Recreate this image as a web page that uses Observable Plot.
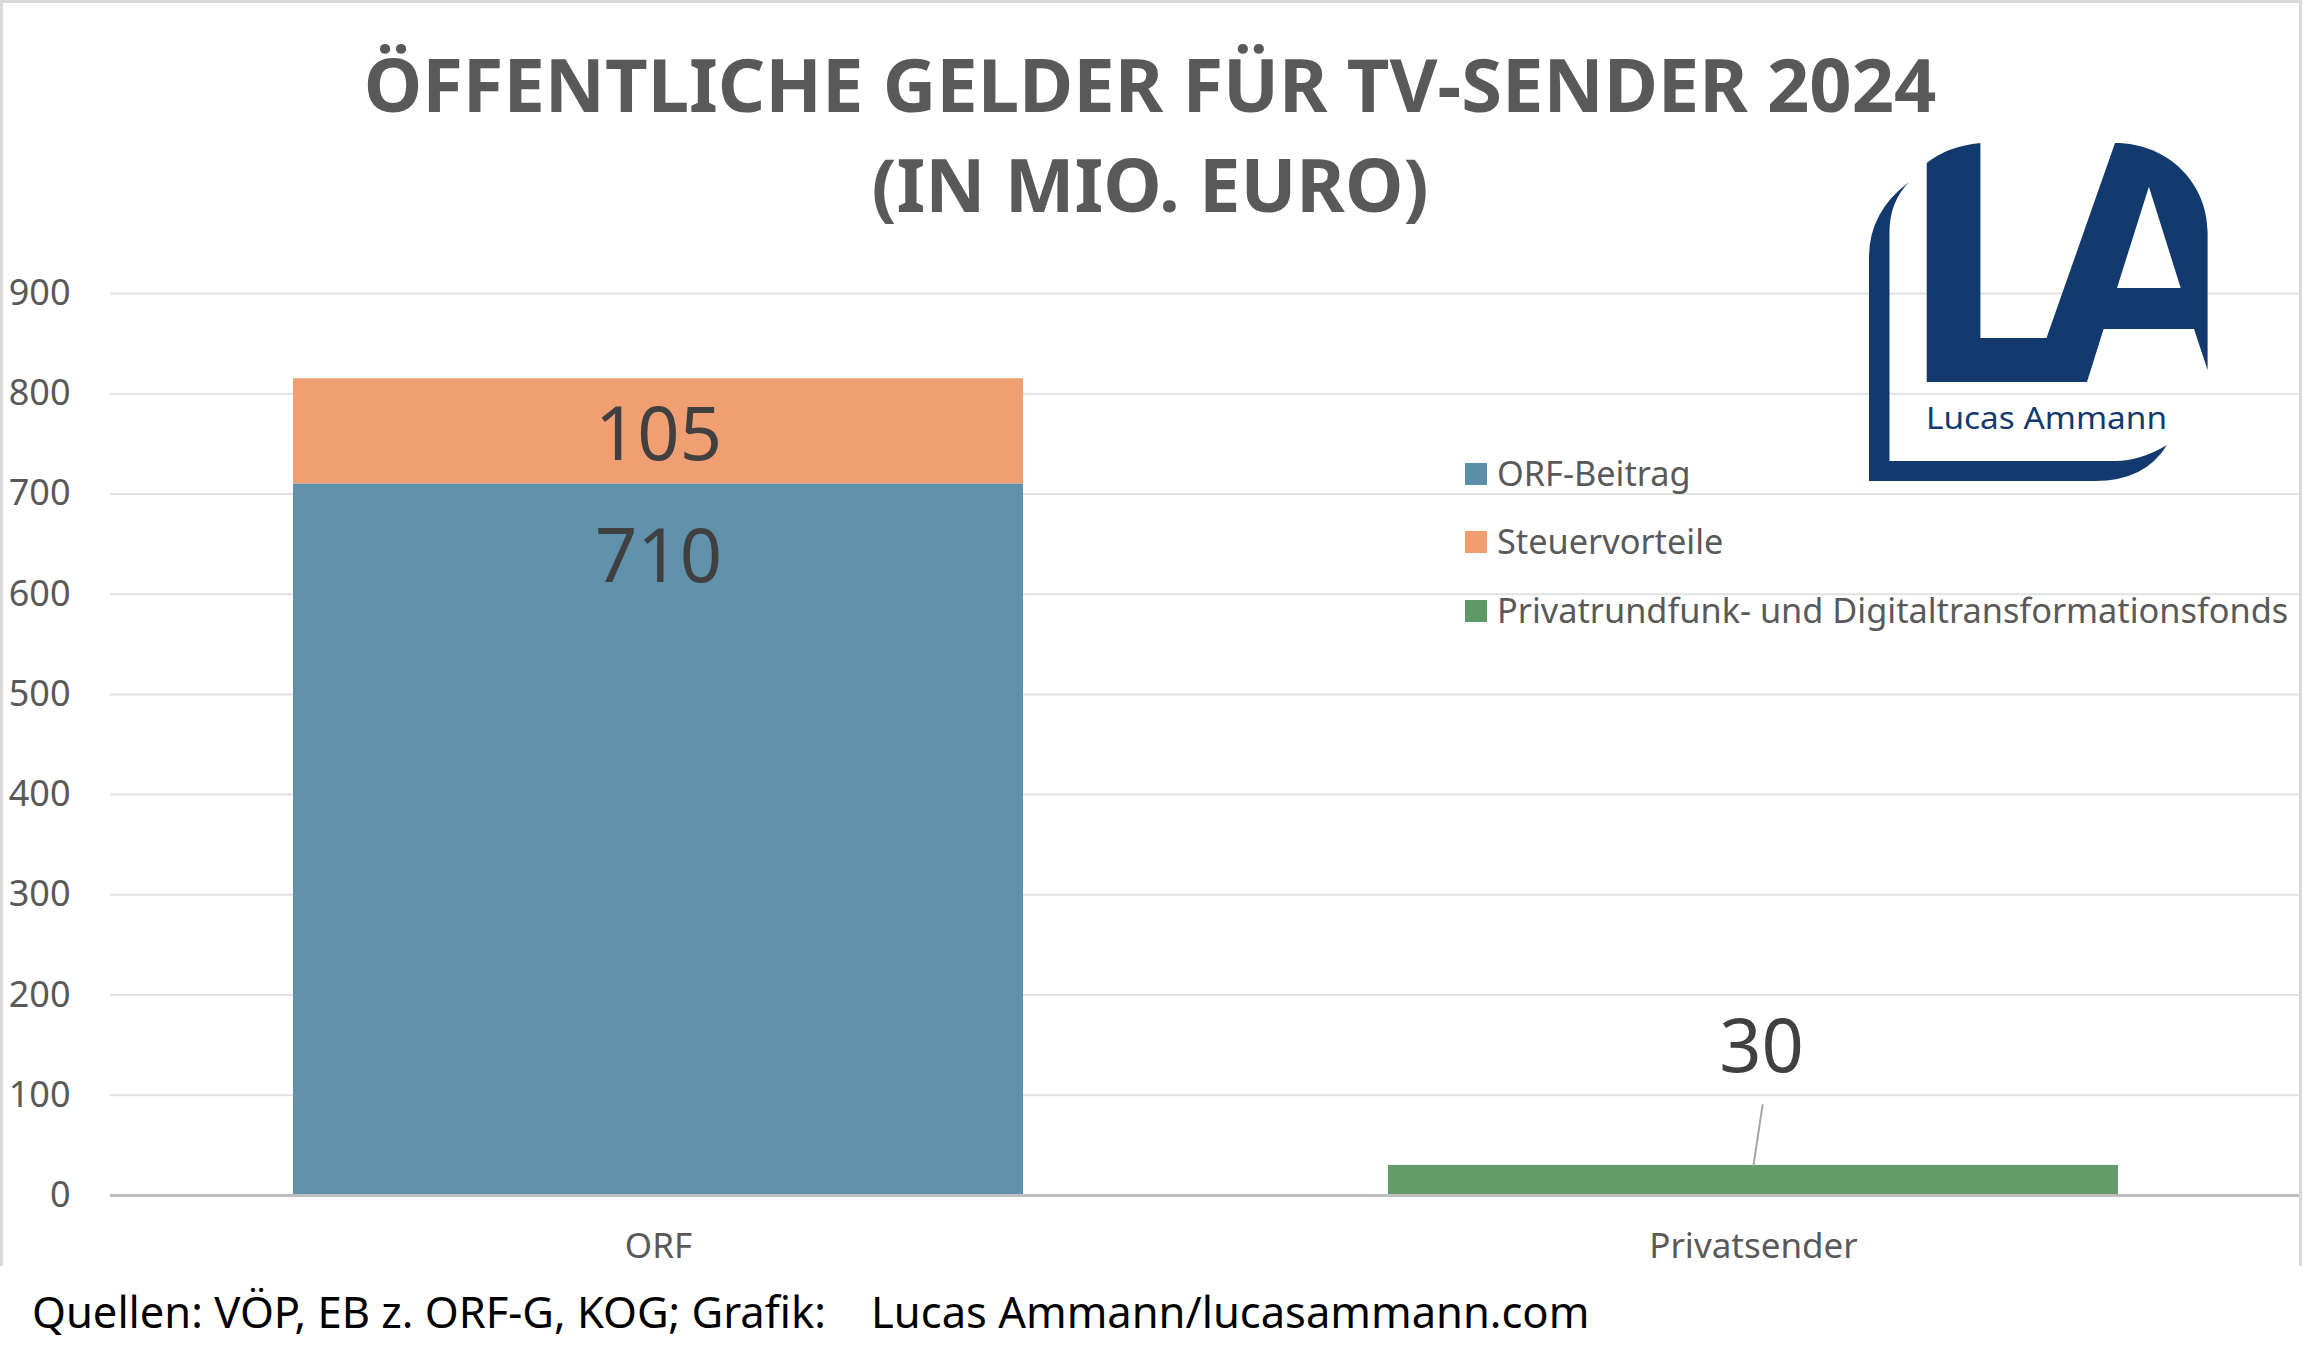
<!DOCTYPE html>
<html>
<head>
<meta charset="utf-8">
<script src="https://cdn.jsdelivr.net/npm/d3@7"></script>
<script src="https://cdn.jsdelivr.net/npm/@observablehq/plot@0.6"></script>
<style>
  html, body { margin: 0; padding: 0; background: #fff; }
  #wrap { position: relative; width: 2304px; height: 1362px; overflow: hidden; font-family: "Noto Sans", sans-serif; background: #fff; }
  #chart { position: absolute; left: 0; top: 0; }
  #frame { position: absolute; left: 0; top: 0; width: 2302px; height: 1266px; border: 3px solid #d9d9d9; border-bottom: none; box-sizing: border-box; pointer-events: none; }
  .title { position: absolute; left: 0; width: 2300px; text-align: center; font-weight: 700; font-size: 74px; line-height: 100px; color: #595959; top: 34px; white-space: nowrap; }
  .legend { position: absolute; left: 1465px; top: 0; }
  .lg-row { position: absolute; left: 0; white-space: nowrap; font-size: 34.3px; line-height: 35px; color: #595959; }
  .lg-sw { position: absolute; left: 0; width: 22px; height: 22px; }
  .lg-tx { position: absolute; left: 32px; }
  .footer { position: absolute; left: 32px; top: 1290px; font-size: 43.5px; line-height: 43px; color: #000; white-space: pre; }
  #logo { position: absolute; left: 0; top: 0; }
</style>
</head>
<body>
<div id="wrap">
  <div id="chart"></div>
  <div id="frame"></div>
  <svg id="logo" width="2304" height="1362" viewBox="0 0 2304 1362">
    <g fill="#133a6e">
      <path d="M1909,182 Q1869,212 1869,257 L1869,481 L2095,481 Q2145,481 2167,445 Q2140,461 2115,461 L1889.5,461 L1889.5,232 Q1889.5,202 1909,182 Z"/>
      <path fill-rule="evenodd" d="M1926.7,163 Q1948,146 1980.4,143 L1980.4,338 L2046.5,338 L2115,143 C2170,143 2207.6,185 2207.6,232 L2207.6,370 L2194,329 L2103.6,329 L2087,382 L1926.7,382 Z M2117,288 L2148.9,186.7 L2180.7,288 Z"/>
      <text x="1926" y="429" font-family="Noto Sans, sans-serif" font-size="31" textLength="241" lengthAdjust="spacingAndGlyphs">Lucas Ammann</text>
    </g>
  </svg>
  <div class="title" id="title"></div>
  <div class="legend" id="legend"></div>
  <div class="footer" id="footer"></div>
</div>
<script>
// ---- data ----
const titleLines = ["ÖFFENTLICHE GELDER FÜR TV-SENDER 2024", "(IN MIO. EURO)"];
const footerText = "Quellen: VÖP, EB z. ORF-G, KOG; Grafik:    Lucas Ammann/lucasammann.com";
const categories = ["ORF", "Privatsender"];
const seriesNames = ["ORF-Beitrag", "Steuervorteile", "Privatrundfunk- und Digitaltransformationsfonds"];
const orfBeitrag = [710, 0];
const steuervorteile = [105, 0];
const fonds = [0, 30];
const yTicks = [0, 100, 200, 300, 400, 500, 600, 700, 800, 900];
const seriesColors = ["#5b8fa8", "#f09c6e", "#5e9865"];

// ---- build table ----
const seriesValues = [orfBeitrag, steuervorteile, fonds];
const rows = [];
seriesNames.forEach((s, k) => categories.forEach((c, i) => {
  rows.push({category: c, series: s, value: seriesValues[k][i]});
}));
// label rows: value and top of its stacked segment
const labelRows = [];
categories.forEach((c, i) => {
  let cum = 0;
  seriesNames.forEach((s, k) => {
    const v = seriesValues[k][i];
    cum += v;
    if (v > 0) labelRows.push({category: c, series: s, value: v, top: cum});
  });
});

const labelStyle = {fill: "#404040", fontSize: 74, fontFamily: "Noto Sans, sans-serif"};

const plot = Plot.plot({
  width: 2304,
  height: 1300,
  marginLeft: 110,
  marginRight: 4,
  marginTop: 293,
  marginBottom: 105,
  style: {background: "transparent", color: "#595959", fontFamily: "Noto Sans, sans-serif"},
  x: {type: "band", domain: categories, paddingInner: 1/3, paddingOuter: 1/6, label: null},
  y: {domain: [0, 900], ticks: yTicks, label: null},
  color: {domain: seriesNames, range: seriesColors},
  marks: [
    Plot.ruleY(yTicks.filter(t => t > 0), {stroke: "#e2e2e2", strokeWidth: 2}),
    Plot.barY(rows, Plot.stackY({x: "category", y: "value", fill: "series", order: seriesNames, fillOpacity: 0.97})),
    Plot.ruleY([0], {stroke: "#bfbfbf", strokeWidth: 3}),
    Plot.axisY({ticks: yTicks, tickSize: 0, tickPadding: 40, fontSize: 36, label: null}),
    Plot.axisX({tickSize: 0, tickPadding: 38, fontSize: 35, label: null}),
    Plot.text(labelRows.filter(d => d.series === seriesNames[0]), {x: "category", y: "top", text: d => String(d.value), dy: 74, ...labelStyle}),
    Plot.text(labelRows.filter(d => d.series === seriesNames[1]), {x: "category", y: "top", text: d => String(d.value), dy: 58, ...labelStyle}),
    Plot.text(labelRows.filter(d => d.series === seriesNames[2]), {x: "category", y: "top", text: d => String(d.value), dy: -117, dx: 8, ...labelStyle}),
    Plot.vector(labelRows.filter(d => d.series === seriesNames[2]), {
      x: "category", y: "top", length: 61, rotate: 8.5, anchor: "start",
      stroke: "#a6a6a6", strokeWidth: 2,
      shape: {draw(context, l) { context.moveTo(0, 0); context.lineTo(0, -l); }}
    })
  ]
});
document.getElementById("chart").appendChild(plot);

// title
const t = document.getElementById("title");
titleLines.forEach(line => { const d = document.createElement("div"); d.textContent = line; t.appendChild(d); });

// legend
const lg = document.getElementById("legend");
const rowTops = [455, 523, 592];
seriesNames.forEach((s, k) => {
  const r = document.createElement("div");
  r.className = "lg-row";
  r.style.top = rowTops[k] + "px";
  const sw = document.createElement("div");
  sw.className = "lg-sw";
  sw.style.background = seriesColors[k];
  sw.style.top = "8px";
  const tx = document.createElement("div");
  tx.className = "lg-tx";
  tx.textContent = s;
  r.appendChild(sw); r.appendChild(tx);
  lg.appendChild(r);
});

document.getElementById("footer").textContent = footerText;
</script>
</body>
</html>
